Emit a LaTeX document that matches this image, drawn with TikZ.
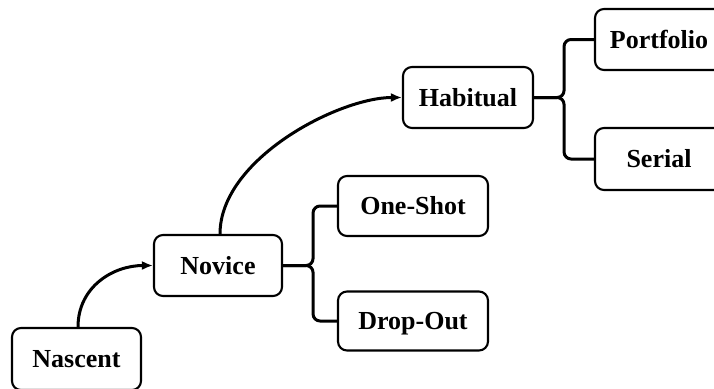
\documentclass[tikz,border=0pt]{standalone}
\usepackage{fontspec}
\setmainfont{Liberation Serif}
\usetikzlibrary{arrows.meta}
\tikzset{
  stage/.style={draw, line width=2.1pt, rounded corners=9pt, inner sep=0pt,
    font=\bfseries\fontsize{26}{30}\selectfont, text height=17pt, text depth=0pt,
    minimum height=61pt},
  flow/.style={line width=3pt, -{Latex[length=11pt,width=9pt]}},
  branch/.style={line width=3pt, rounded corners=7pt},
}
\begin{document}
\begin{tikzpicture}[x=1pt,y=-1pt]
\useasboundingbox (0,0) rectangle (714,388);
\clip (0,0) rectangle (714,388);
\node[stage, minimum width=129pt, minimum height=62pt] (nas) at (76.5,359) {Nascent};
\node[stage, minimum width=128pt] (nov) at (218,265.5) {Novice};
\node[stage, minimum width=150pt, minimum height=60pt] (one) at (413,206) {One-Shot};
\node[stage, minimum width=150pt, minimum height=59pt] (drop) at (413,321) {Drop-Out};
\node[stage, minimum width=130pt] (hab) at (468,97.5) {Habitual};
\node[stage, minimum width=128pt] (port) at (659,39.5) {Portfolio};
\node[stage, minimum width=128pt, minimum height=62pt] (ser) at (659,159) {Serial};
% arrows
\draw[flow] ([xshift=1.5pt]nas.north) .. controls +(0,-40) and +(-40,0) .. (nov.west);
\draw[flow] ([xshift=2pt]nov.north) .. controls +(0,-75) and +(-63,0) .. (hab.west);
% brackets
\draw[branch] (nov.east) -- ++(30,0) |- (one.west);
\draw[branch] (nov.east) -- ++(30,0) |- (drop.west);
\draw[branch] (hab.east) -- ++(30,0) |- (port.west);
\draw[branch] (hab.east) -- ++(30,0) |- (ser.west);
\end{tikzpicture}
\end{document}
